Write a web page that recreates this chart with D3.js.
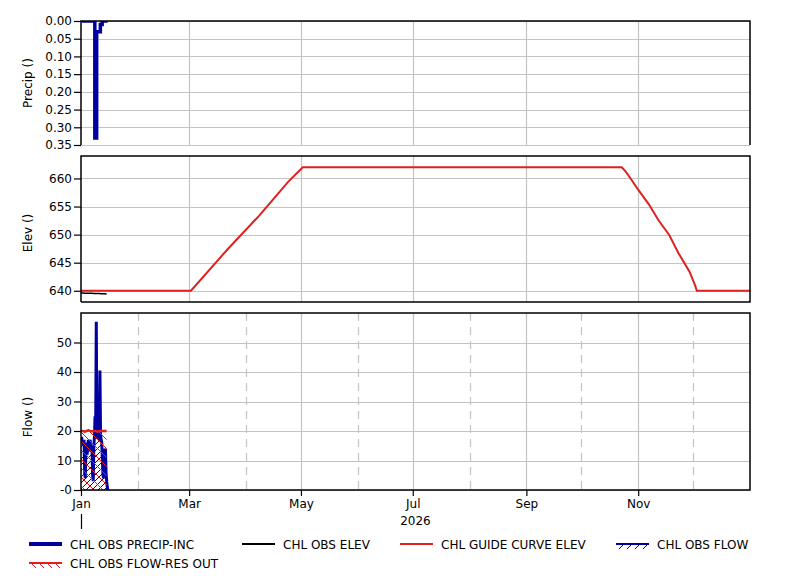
<!DOCTYPE html>
<html>
<head>
<meta charset="utf-8">
<script src="https://cdn.jsdelivr.net/npm/d3@7"></script>
<style>
  body { margin: 0; background: #fff; }
  svg text { font-family: "DejaVu Sans", Verdana, sans-serif; font-size: 12px; fill: #000; }
</style>
</head>
<body>
<div id="chart"></div>
<script>
// ---- data ----
var precipDates = ["2026-01-01","2026-01-02","2026-01-03","2026-01-04","2026-01-05","2026-01-06","2026-01-07",
                   "2026-01-08","2026-01-09","2026-01-10","2026-01-11","2026-01-12","2026-01-13","2026-01-14","2026-01-15"];
var precipValues = [0, 0, 0, 0, 0, 0, 0, 0.33, 0.03, 0.03, 0.01, 0, 0, 0, 0];

var obsElevDates = precipDates;
var obsElevValues = [639.60, 639.59, 639.58, 639.57, 639.56, 639.55, 639.54, 639.53, 639.52, 639.51,
                     639.50, 639.49, 639.48, 639.46, 639.44];

var guideDates = ["2026-01-01","2026-03-02","2026-03-22","2026-04-08","2026-04-24","2026-05-02",
                  "2026-10-23","2026-10-25","2026-10-27","2026-11-01","2026-11-07",
                  "2026-11-12","2026-11-18","2026-11-23","2026-11-29","2026-12-02","2026-12-03","2027-01-01"];
var guideValues = [640, 640, 647.4, 653.3, 659.4, 662,
                   662, 661.3, 660.4, 658.0, 655.3, 652.6, 649.9, 646.7, 643.4, 641.0, 640, 640];

// obs flow: 8-hourly from Jan 1 00:00
var flowStart = "2026-01-01";
var flowStepHours = 8;
var flowValues = [17, 18, 16, 17, 15, 17, 6, 4, 14, 16, 12, 15, 17, 14, 16, 17, 13, 15,
                  14, 5, 3, 15, 18, 25, 19, 57, 20, 18, 19, 17, 20, 40.5, 19, 17, 16, 10,
                  5, 4, 14, 13, 14, 6, 3, 1, 0];

var resOutDates = precipDates.slice(0, 15);
var resOutValues = [20, 20, 19.8, 20, 20.2, 20, 19.9, 20, 20, 19.8, 20, 20, 20, 20, 20];

var precipTicks = [0, 0.05, 0.1, 0.15, 0.2, 0.25, 0.3, 0.35];
var elevTicks = [640, 645, 650, 655, 660];
var flowTicks = [0, 10, 20, 30, 40, 50];

var legendItems = [
  { name: "CHL OBS PRECIP-INC", kind: "precip" },
  { name: "CHL OBS ELEV", kind: "elev" },
  { name: "CHL GUIDE CURVE ELEV", kind: "guide" },
  { name: "CHL OBS FLOW", kind: "flow" },
  { name: "CHL OBS FLOW-RES OUT", kind: "resout" }
];

// ---- layout ----
var width = 801, height = 580;
var left = 81, right = 750;
var panels = {
  precip: { top: 21, bottom: 145 },
  elev: { top: 156, bottom: 302 },
  flow: { top: 313, bottom: 490 }
};
var BLUE = "#0000a0", RED = "#e02020", GRID = "#c4c4c4";

var parseDay = d3.timeParse("%Y-%m-%d");

var svg = d3.select("#chart").append("svg")
  .attr("width", width).attr("height", height);

var defs = svg.append("defs");
function hatch(id, color, dir, size, sw) {
  var p = defs.append("pattern").attr("id", id)
    .attr("patternUnits", "userSpaceOnUse").attr("width", size).attr("height", size);
  var d = dir > 0 ? "M0," + size + "L" + size + ",0 M-1,1 L1,-1 M" + (size - 1) + "," + (size + 1) + "L" + (size + 1) + "," + (size - 1)
                  : "M0,0L" + size + "," + size + " M-1," + (size - 1) + "L1," + (size + 1) + " M" + (size - 1) + ",-1L" + (size + 1) + ",1";
  p.append("path").attr("d", d).attr("stroke", color).attr("stroke-width", sw).attr("fill", "none");
}
hatch("hatchRed", RED, -1, 9, 1);
hatch("hatchBlue", BLUE, 1, 6, 1);

var x = d3.scaleTime()
  .domain([new Date(2026, 0, 1), new Date(2027, 0, 1)])
  .range([left, right]);

var yPrecip = d3.scaleLinear().domain([0, 0.35]).range([panels.precip.top, panels.precip.bottom]);
var yElev = d3.scaleLinear().domain([638, 664]).range([panels.elev.bottom, panels.elev.top]);
var yFlow = d3.scaleLinear().domain([0, 60]).range([panels.flow.bottom, panels.flow.top]);

var majorMonths = d3.timeMonth.every(2).range(new Date(2026, 0, 1), new Date(2027, 0, 1));
var minorMonths = d3.timeMonth.range(new Date(2026, 0, 1), new Date(2027, 0, 1))
  .filter(function (d) { return d.getMonth() % 2 === 1; });

Object.keys(panels).forEach(function (k) {
  var p = panels[k];
  defs.append("clipPath").attr("id", "clip-" + k)
    .append("rect").attr("x", left).attr("y", p.top).attr("width", right - left).attr("height", p.bottom - p.top);
});

function drawGrid(key, yScale, ticks, withMinor) {
  var p = panels[key];
  var g = svg.append("g");
  g.selectAll("line.h").data(ticks).enter().append("line")
    .attr("x1", left).attr("x2", right)
    .attr("y1", function (d) { return Math.round(yScale(d)) + 0.5; })
    .attr("y2", function (d) { return Math.round(yScale(d)) + 0.5; })
    .attr("stroke", GRID).attr("stroke-width", 1.2);
  g.selectAll("line.v").data(majorMonths.slice(1)).enter().append("line")
    .attr("x1", function (d) { return Math.round(x(d)) + 0.5; })
    .attr("x2", function (d) { return Math.round(x(d)) + 0.5; })
    .attr("y1", p.top).attr("y2", p.bottom)
    .attr("stroke", GRID).attr("stroke-width", 1.2);
  if (withMinor) {
    g.selectAll("line.m").data(minorMonths).enter().append("line")
      .attr("x1", function (d) { return Math.round(x(d)) + 0.5; })
      .attr("x2", function (d) { return Math.round(x(d)) + 0.5; })
      .attr("y1", p.top).attr("y2", p.bottom)
      .attr("stroke", GRID).attr("stroke-width", 1.2)
      .attr("stroke-dasharray", "8,6");
  }
}

drawGrid("precip", yPrecip, precipTicks, false);
drawGrid("elev", yElev, elevTicks, false);
drawGrid("flow", yFlow, flowTicks, true);

// ---- precip ----
var precipData = precipDates.map(function (d, i) { return { t: parseDay(d), v: precipValues[i] }; });
svg.append("g").attr("clip-path", "url(#clip-precip)")
  .append("path").datum(precipData)
  .attr("fill", "none").attr("stroke", BLUE).attr("stroke-width", 3.5)
  .attr("d", d3.line().curve(d3.curveStepAfter)
    .x(function (d) { return x(d.t) + 1; }).y(function (d) { return yPrecip(d.v); }));

// ---- elevation ----
var gElev = svg.append("g").attr("clip-path", "url(#clip-elev)");
var guideData = guideDates.map(function (d, i) { return { t: parseDay(d), v: guideValues[i] }; });
gElev.append("path").datum(guideData)
  .attr("fill", "none").attr("stroke", RED).attr("stroke-width", 2)
  .attr("d", d3.line().x(function (d) { return x(d.t); }).y(function (d) { return yElev(d.v); }));
var obsElevData = obsElevDates.map(function (d, i) { return { t: parseDay(d), v: obsElevValues[i] }; });
gElev.append("path").datum(obsElevData)
  .attr("fill", "none").attr("stroke", "#000").attr("stroke-width", 1.5)
  .attr("d", d3.line().x(function (d) { return x(d.t); }).y(function (d) { return yElev(d.v); }));

// ---- flow ----
var gFlow = svg.append("g").attr("clip-path", "url(#clip-flow)");
var resOutData = resOutDates.map(function (d, i) { return { t: parseDay(d), v: resOutValues[i] }; });
var t0 = parseDay(flowStart);
var flowData = flowValues.map(function (v, i) { return { t: d3.timeHour.offset(t0, i * flowStepHours), v: v }; });

gFlow.append("path").datum(flowData)
  .attr("fill", "url(#hatchBlue)")
  .attr("d", d3.area().x(function (d) { return x(d.t); }).y0(yFlow(0)).y1(function (d) { return yFlow(d.v); }));
gFlow.append("path").datum(flowData)
  .attr("fill", "none").attr("stroke", BLUE).attr("stroke-width", 3)
  .attr("d", d3.line().x(function (d) { return x(d.t); }).y(function (d) { return yFlow(d.v); }));
gFlow.append("path").datum(resOutData)
  .attr("fill", "url(#hatchRed)")
  .attr("d", d3.area().x(function (d) { return x(d.t); }).y0(yFlow(0)).y1(function (d) { return yFlow(d.v); }));
gFlow.append("path").datum(resOutData)
  .attr("fill", "none").attr("stroke", RED).attr("stroke-width", 2.5)
  .attr("d", d3.line().x(function (d) { return x(d.t); }).y(function (d) { return yFlow(d.v); }));

// ---- borders ----
function border(key, skipBottom) {
  var p = panels[key];
  var pts = skipBottom
    ? [[left, p.bottom], [left, p.top], [right, p.top], [right, p.bottom]]
    : [[left, p.bottom], [left, p.top], [right, p.top], [right, p.bottom], [left, p.bottom]];
  svg.append("path").attr("d", d3.line()(pts))
    .attr("fill", "none").attr("stroke", "#000").attr("stroke-width", 1.5);
}
border("precip", true);
border("elev", false);
border("flow", false);

// ---- y axes ----
function yAxis(scale, ticks, fmt) {
  var g = svg.append("g").attr("transform", "translate(" + left + ",0)")
    .call(d3.axisLeft(scale).tickValues(ticks).tickFormat(fmt).tickSize(7).tickPadding(2).tickSizeOuter(0));
  g.select(".domain").remove();
  g.selectAll("text").style("font-size", "12px").style("font-family", "'DejaVu Sans', sans-serif");
  g.selectAll("line").attr("stroke-width", 1.2);
}
yAxis(yPrecip, precipTicks, d3.format(".2f"));
yAxis(yElev, elevTicks, d3.format("d"));
yAxis(yFlow, flowTicks, function (d) { return d === 0 ? "-0" : d; });

// ---- x axis ----
var gx = svg.append("g").attr("transform", "translate(0," + panels.flow.bottom + ")")
  .call(d3.axisBottom(x).tickValues(majorMonths).tickFormat(d3.timeFormat("%b")).tickSize(6).tickPadding(3).tickSizeOuter(0));
gx.select(".domain").remove();
gx.selectAll("text").style("font-size", "12px").style("font-family", "'DejaVu Sans', sans-serif");
gx.selectAll("line").attr("stroke-width", 1.2);

var yearMid = new Date((x.domain()[0].getTime() + x.domain()[1].getTime()) / 2);
svg.append("text").attr("x", x(yearMid)).attr("y", 525).attr("text-anchor", "middle").text("2026");
svg.append("line").attr("x1", left + 0.5).attr("x2", left + 0.5).attr("y1", 514).attr("y2", 529)
  .attr("stroke", "#000").attr("stroke-width", 1.2);

// ---- axis titles ----
var titles = [
  { text: "Precip ()", y: (panels.precip.top + panels.precip.bottom) / 2 },
  { text: "Elev ()", y: (panels.elev.top + panels.elev.bottom) / 2 + 4 },
  { text: "Flow ()", y: 417 }
];
svg.selectAll("text.title").data(titles).enter().append("text")
  .attr("class", "title")
  .attr("transform", function (d) { return "translate(32," + d.y + ") rotate(-90)"; })
  .attr("text-anchor", "middle")
  .text(function (d) { return d.text; });

// ---- legend ----
var legendPos = [[29, 544], [242, 544], [400, 544], [616, 544], [29, 563]];
var lg = svg.append("g");
legendItems.forEach(function (item, i) {
  var px = legendPos[i][0], py = legendPos[i][1];
  var g = lg.append("g").attr("transform", "translate(" + px + "," + py + ")");
  if (item.kind === "precip") {
    g.append("line").attr("x1", 0).attr("x2", 33).attr("stroke", BLUE).attr("stroke-width", 4);
  } else if (item.kind === "elev") {
    g.append("line").attr("x1", 0).attr("x2", 33).attr("stroke", "#000").attr("stroke-width", 2);
  } else if (item.kind === "guide") {
    g.append("line").attr("x1", 0).attr("x2", 33).attr("stroke", RED).attr("stroke-width", 2);
  } else {
    var col = item.kind === "flow" ? BLUE : RED;
    g.append("line").attr("x1", 0).attr("x2", 33).attr("stroke", col).attr("stroke-width", 2);
    d3.range(4).forEach(function (j) {
      var sx = 3 + j * 8;
      var path = item.kind === "flow" ? "M" + sx + ",5L" + (sx + 4) + ",1" : "M" + sx + ",1L" + (sx + 4) + ",5";
      g.append("path").attr("d", path).attr("stroke", col).attr("stroke-width", 1).attr("fill", "none");
    });
  }
  g.append("text").attr("x", 41).attr("y", 4.5).text(item.name);
});
</script>
</body>
</html>
